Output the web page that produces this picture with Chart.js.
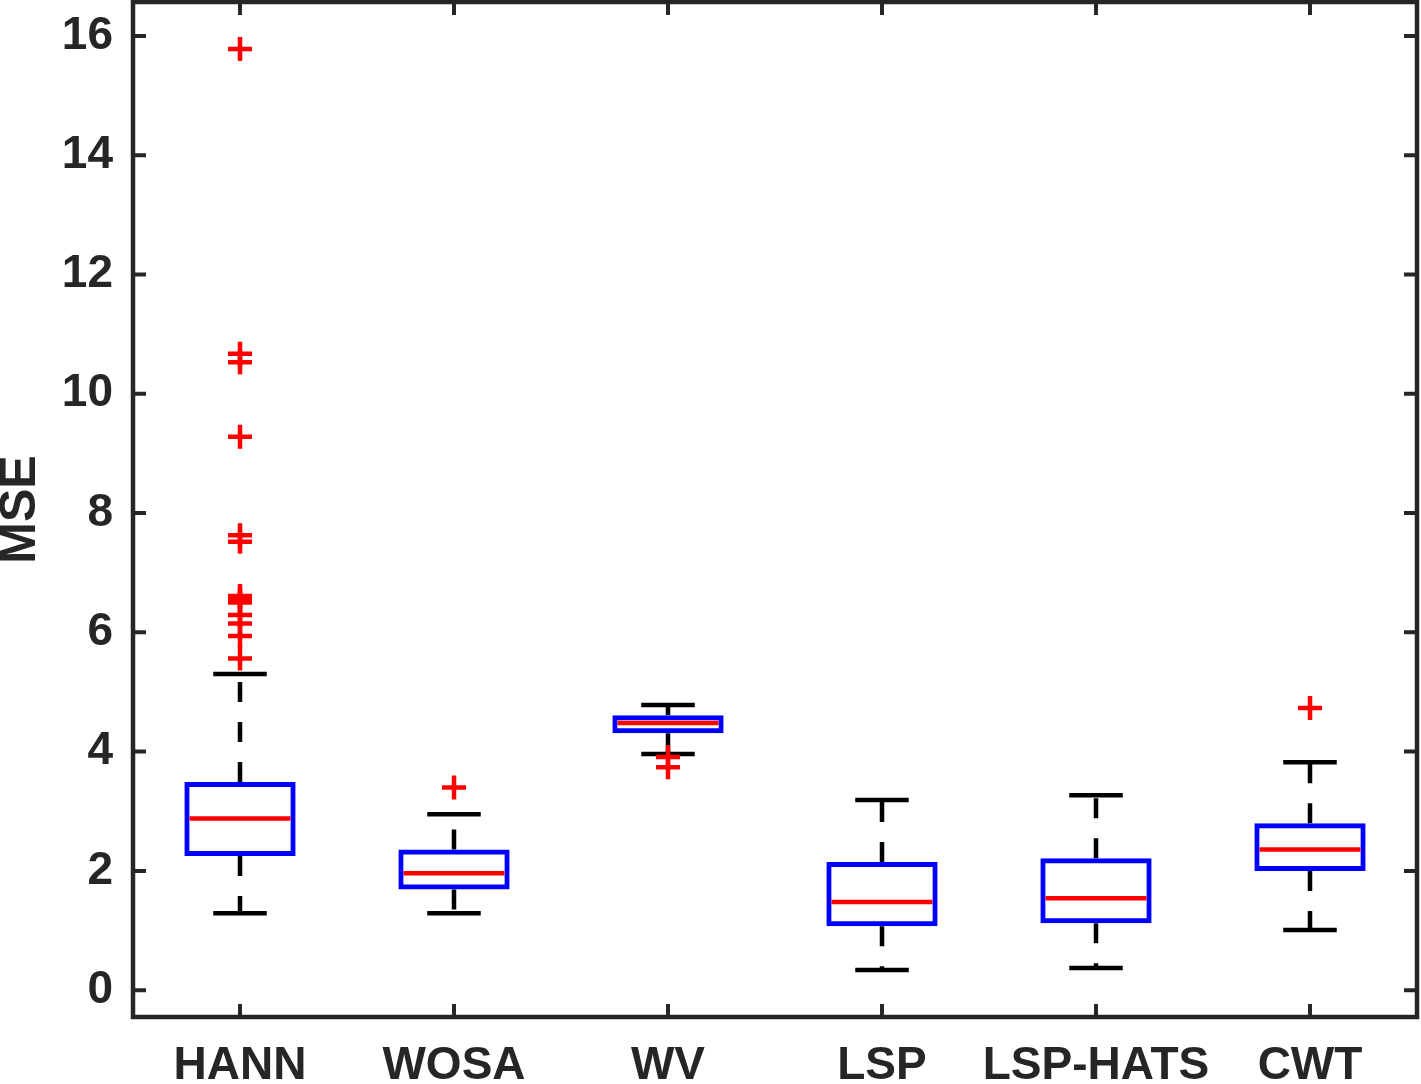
<!DOCTYPE html>
<html>
<head>
<meta charset="utf-8">
<script src="https://cdn.jsdelivr.net/npm/chart.js@4.4.1/dist/chart.umd.min.js"></script>
<style>
  html, body { margin: 0; padding: 0; background: #fff; }
  #wrap { width: 1421px; height: 1084px; }
</style>
</head>
<body>
<div id="wrap"><canvas id="chart"></canvas></div>
<script>
const methods = ["HANN", "WOSA", "WV", "LSP", "LSP-HATS", "CWT"];
const lowerWhisker = [1.29, 1.29, 3.96, 0.34, 0.37, 1.01];
const q1 = [2.25, 1.69, 4.31, 1.07, 1.12, 2.00];
const median = [2.88, 1.96, 4.48, 1.48, 1.54, 2.36];
const q3 = [3.49, 2.36, 4.61, 2.15, 2.21, 2.80];
const upperWhisker = [5.30, 2.95, 4.78, 3.19, 3.27, 3.82];
const outliers = [
  [15.78, 10.67, 10.53, 9.28, 7.63, 7.52, 6.61, 6.55, 6.50, 6.29, 6.15, 5.94, 5.56],
  [3.40],
  [3.91, 3.74],
  [],
  [],
  [4.73]
];
const yTicks = [0, 2, 4, 6, 8, 10, 12, 14, 16];

const ink = "#262626";
const font = { family: "'Liberation Sans', Arial, sans-serif", size: 46, weight: "bold" };

const outlierPoints = [];
outliers.forEach((vals, i) => vals.forEach(v => outlierPoints.push({ x: methods[i], y: v })));

// whiskers, caps and medians drawn from the data through the chart scales
const boxParts = {
  id: "boxParts",
  beforeDatasetsDraw(chart) {
    const { ctx, scales: { x, y } } = chart;
    const cap = (x.getPixelForValue(1) - x.getPixelForValue(0)) * 0.125;
    ctx.save();
    ctx.strokeStyle = "#000";
    ctx.lineWidth = 4.5;
    methods.forEach((m, i) => {
      const cx = x.getPixelForValue(i);
      ctx.setLineDash([20, 20]);
      ctx.beginPath();
      ctx.moveTo(cx, y.getPixelForValue(q3[i]));
      ctx.lineTo(cx, y.getPixelForValue(upperWhisker[i]));
      ctx.moveTo(cx, y.getPixelForValue(q1[i]));
      ctx.lineTo(cx, y.getPixelForValue(lowerWhisker[i]));
      ctx.stroke();
      ctx.setLineDash([]);
      ctx.beginPath();
      [upperWhisker[i], lowerWhisker[i]].forEach(v => {
        const py = y.getPixelForValue(v);
        ctx.moveTo(cx - cap, py);
        ctx.lineTo(cx + cap, py);
      });
      ctx.stroke();
    });
    ctx.restore();
  },
  afterDatasetsDraw(chart) {
    const { ctx, scales: { x, y } } = chart;
    const half = (x.getPixelForValue(1) - x.getPixelForValue(0)) * 0.25 - 3;
    ctx.save();
    ctx.strokeStyle = "#ff0000";
    ctx.lineWidth = 4.5;
    ctx.beginPath();
    methods.forEach((m, i) => {
      const cx = x.getPixelForValue(i);
      const py = y.getPixelForValue(median[i]);
      ctx.moveTo(cx - half, py);
      ctx.lineTo(cx + half, py);
    });
    ctx.stroke();
    ctx.restore();
  },
  afterDraw(chart) {
    const { ctx, chartArea: a, scales: { x, y } } = chart;
    ctx.save();
    ctx.strokeStyle = ink;
    ctx.lineWidth = 4.5;
    ctx.strokeRect(a.left, a.top, a.right - a.left, a.bottom - a.top);
    ctx.lineWidth = 4;
    ctx.beginPath();
    const t = 13;
    yTicks.forEach(v => {
      const py = y.getPixelForValue(v);
      ctx.moveTo(a.left, py); ctx.lineTo(a.left + t, py);
      ctx.moveTo(a.right, py); ctx.lineTo(a.right - t, py);
    });
    methods.forEach((m, i) => {
      const px = x.getPixelForValue(i);
      ctx.moveTo(px, a.bottom); ctx.lineTo(px, a.bottom - t);
      ctx.moveTo(px, a.top); ctx.lineTo(px, a.top + t);
    });
    ctx.stroke();
    ctx.restore();
  }
};

new Chart(document.getElementById("chart"), {
  type: "bar",
  data: {
    labels: methods,
    datasets: [
      {
        label: "box",
        data: q1.map((v, i) => [v, q3[i]]),
        backgroundColor: "rgba(0,0,0,0)",
        borderColor: "#0000ff",
        borderWidth: 5,
        borderSkipped: false,
        barPercentage: 0.52,
        categoryPercentage: 1
      },
      {
        type: "scatter",
        label: "outliers",
        data: outlierPoints,
        pointStyle: "cross",
        radius: 12,
        borderWidth: 4.5,
        borderColor: "#ff0000",
        backgroundColor: "#ff0000"
      }
    ]
  },
  options: {
    responsive: true,
    maintainAspectRatio: false,
    animation: false,
    layout: { autoPadding: false, padding: { top: 2, right: 4, left: 0, bottom: 0 } },
    plugins: { legend: { display: false }, tooltip: { enabled: false } },
    scales: {
      x: {
        type: "category",
        offset: true,
        grid: { display: false, drawTicks: false },
        border: { display: false },
        ticks: { color: ink, font: font, padding: 22, maxRotation: 0, autoSkip: false },
        afterFit(scale) {
          scale.height = 67;
          scale.paddingLeft = 0;
          scale.paddingRight = 0;
        }
      },
      y: {
        min: -0.45,
        max: 16.57,
        grid: { display: false, drawTicks: false },
        border: { display: false },
        ticks: { color: ink, font: font, padding: 20 },
        afterBuildTicks(scale) { scale.ticks = yTicks.map(v => ({ value: v })); },
        afterFit(scale) {
          scale.width = 133;
          scale.paddingTop = 0;
          scale.paddingBottom = 0;
        },
        title: {
          display: true,
          text: "MSE",
          color: ink,
          font: { family: font.family, size: 50, weight: "bold" },
          padding: { top: -9, bottom: 0 }
        }
      }
    }
  },
  plugins: [boxParts]
});
</script>
</body>
</html>
